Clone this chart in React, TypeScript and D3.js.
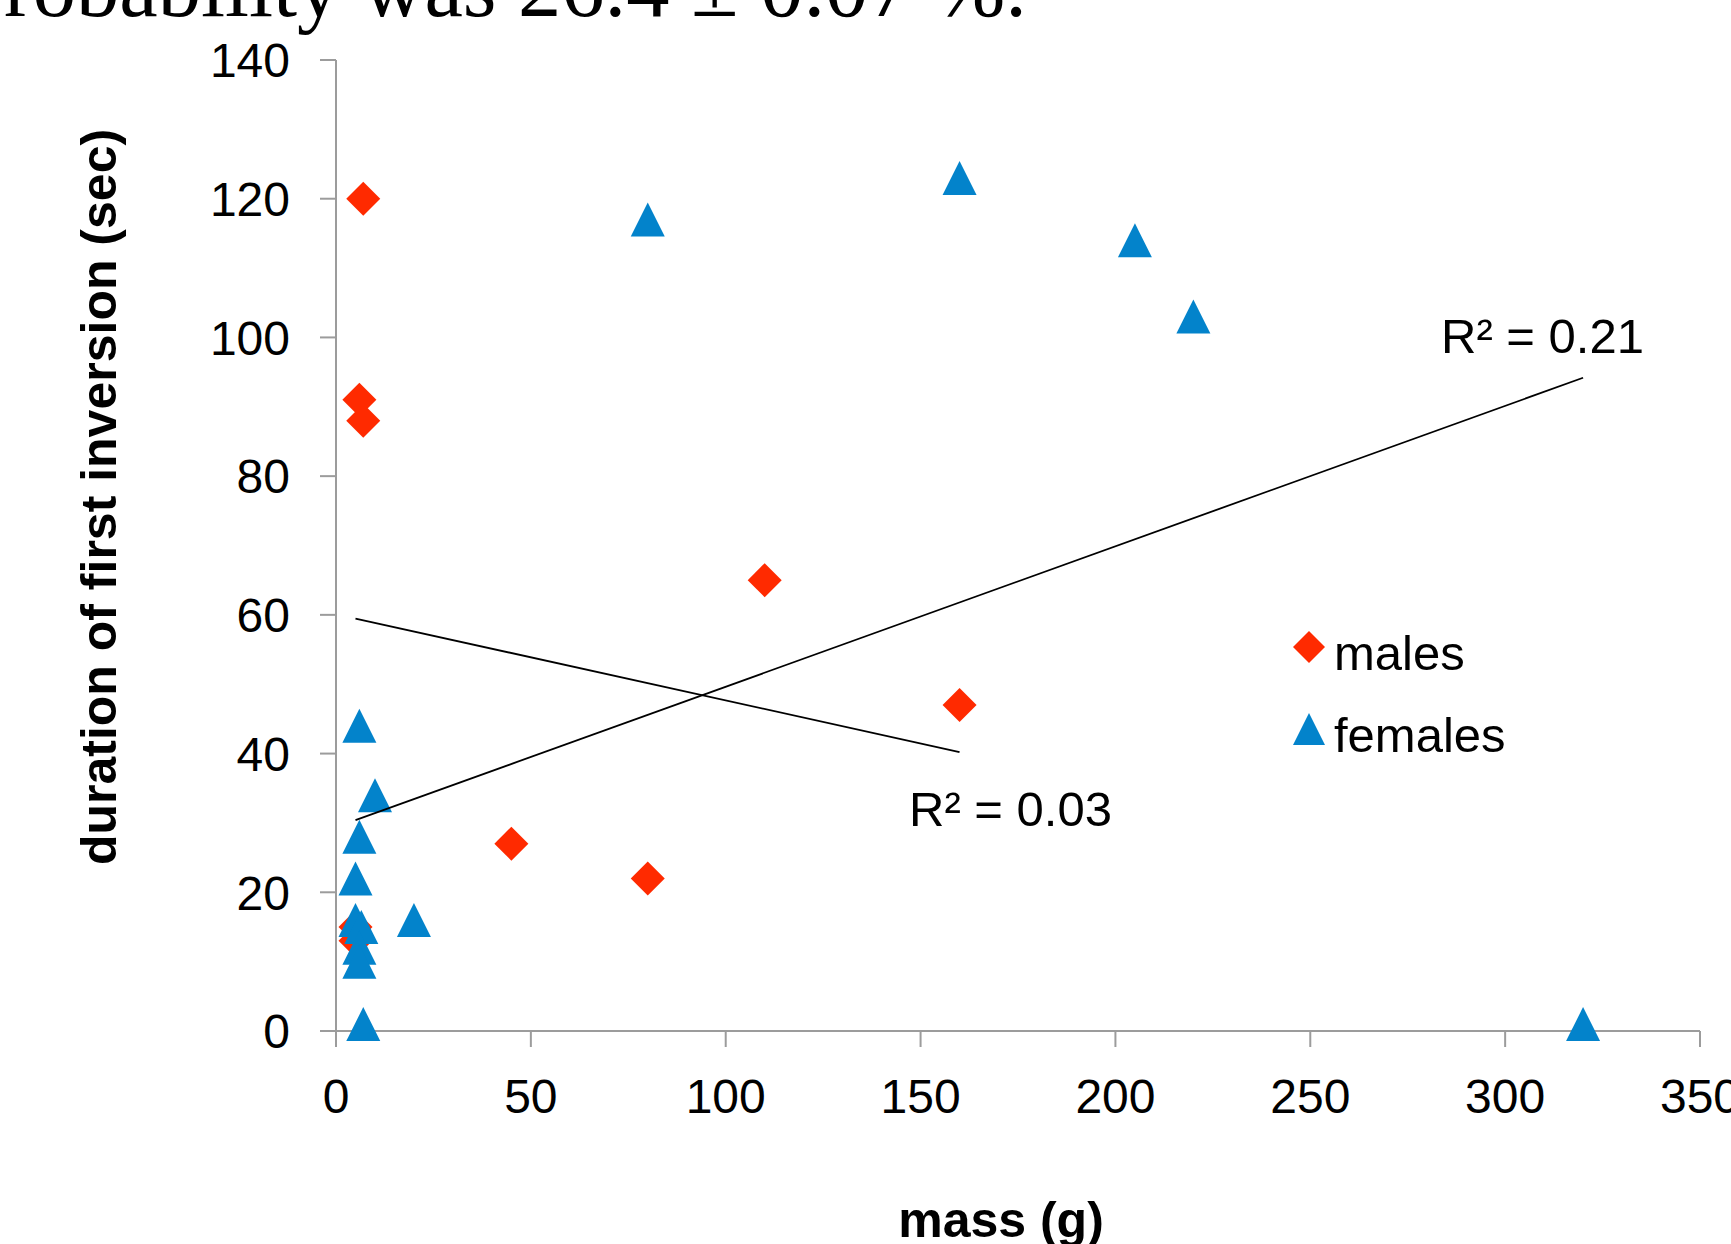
import React from "react";
import * as d3 from "d3";

// ---- data ----
const malesMass = [7, 6, 7, 110, 160, 45, 80, 5, 5];
const malesDuration = [120, 91, 88, 65, 47, 27, 22, 15, 13];
const femalesMass = [6, 10, 6, 5, 5, 6.5, 6, 6, 20, 7, 80, 160, 205, 220, 320];
const femalesDuration = [44, 34, 28, 22, 16, 15, 12, 10, 16, 1, 117, 123, 114, 103, 1];
const xTicks = [0, 50, 100, 150, 200, 250, 300, 350];
const yTicks = [0, 20, 40, 60, 80, 100, 120, 140];
const seriesNames = ["males", "females"];
const r2Labels = ["R² = 0.03", "R² = 0.21"];
const headerText = "robability was 26.4 ± 0.07 %.";
const xTitle = "mass (g)";
const yTitle = "duration of first inversion (sec)";

const W = 1731;
const H = 1244;
const RED = "#FF2A00";
const BLUE = "#0383CB";
const AXIS = "#9C9C9C";
const SANS = "'Liberation Sans', Arial, Helvetica, sans-serif";

const x = d3.scaleLinear().domain([0, 350]).range([336, 1700]);
const y = d3.scaleLinear().domain([0, 140]).range([1031, 60]);

const diamondType = {
  draw(ctx: any, size: number) {
    const r = Math.sqrt(size) / 2;
    ctx.moveTo(0, -r);
    ctx.lineTo(r, 0);
    ctx.lineTo(0, r);
    ctx.lineTo(-r, 0);
    ctx.closePath();
  },
};
const triangleType = {
  draw(ctx: any, size: number) {
    const r = Math.sqrt(size) / 2;
    ctx.moveTo(0, -r);
    ctx.lineTo(r, r);
    ctx.lineTo(-r, r);
    ctx.closePath();
  },
};
const diamondPath = d3.symbol().type(diamondType as any).size(34 * 34)() as string;
const trianglePath = d3.symbol().type(triangleType as any).size(34 * 34)() as string;
const legendDiamond = d3.symbol().type(diamondType as any).size(32 * 32)() as string;
const legendTriangle = d3.symbol().type(triangleType as any).size(32 * 32)() as string;

function fit(xs: number[], ys: number[]) {
  const mx = d3.mean(xs) as number;
  const my = d3.mean(ys) as number;
  let sxy = 0;
  let sxx = 0;
  xs.forEach((v, i) => {
    sxy += (v - mx) * (ys[i] - my);
    sxx += (v - mx) * (v - mx);
  });
  const b = sxy / sxx;
  const a = my - b * mx;
  const [x0, x1] = d3.extent(xs) as [number, number];
  return [
    [x0, a + b * x0],
    [x1, a + b * x1],
  ] as [number, number][];
}

const lineGen = d3
  .line<[number, number]>()
  .x((d) => x(d[0]))
  .y((d) => y(d[1]));

export default function App() {
  const maleFit = fit(malesMass, malesDuration);
  const femaleFit = fit(femalesMass, femalesDuration);
  return (
    <svg
      width={W}
      height={H}
      viewBox={`0 0 ${W} ${H}`}
      style={{ position: "absolute", left: 0, top: 0, display: "block", background: "#fff" }}
    >
      <rect x={0} y={0} width={W} height={H} fill="#fff" />
      <text
        x={4}
        y={16}
        fontFamily="'Liberation Serif', 'Times New Roman', serif"
        fontSize={86.5}
        fill="#000"
      >
        {headerText}
      </text>

      {/* axes */}
      <g stroke={AXIS} strokeWidth={2} fill="none">
        <line x1={x(0)} x2={x(0)} y1={y(140)} y2={y(0) + 16} />
        <line x1={x(0)} x2={x(350)} y1={y(0)} y2={y(0)} />
        {yTicks.map((t) => (
          <line key={"yt" + t} x1={x(0) - 16} x2={x(0)} y1={y(t)} y2={y(t)} />
        ))}
        {xTicks.map((t) => (
          <line key={"xt" + t} x1={x(t)} x2={x(t)} y1={y(0)} y2={y(0) + 16} />
        ))}
      </g>
      <g fontFamily={SANS} fontSize={48} fill="#000">
        {yTicks.map((t) => (
          <text key={"yl" + t} x={290} y={y(t)} dy="0.36em" textAnchor="end">
            {t}
          </text>
        ))}
        {xTicks.map((t) => (
          <text key={"xl" + t} x={x(t)} y={1113} textAnchor="middle">
            {t}
          </text>
        ))}
      </g>

      {/* axis titles */}
      <text
        x={1001}
        y={1237}
        textAnchor="middle"
        fontFamily={SANS}
        fontWeight="bold"
        fontSize={50}
        fill="#000"
      >
        {xTitle}
      </text>
      <text
        transform={`translate(116, ${497}) rotate(-90)`}
        textAnchor="middle"
        fontFamily={SANS}
        fontWeight="bold"
        fontSize={50}
        fill="#000"
      >
        {yTitle}
      </text>

      {/* markers */}
      <g fill={RED}>
        {malesMass.map((m, i) => (
          <path key={"m" + i} d={diamondPath} transform={`translate(${x(m)},${y(malesDuration[i])})`} />
        ))}
      </g>
      <g fill={BLUE}>
        {femalesMass.map((m, i) => (
          <path key={"f" + i} d={trianglePath} transform={`translate(${x(m)},${y(femalesDuration[i])})`} />
        ))}
      </g>

      {/* trend lines */}
      <path d={lineGen(maleFit) as string} stroke="#000" strokeWidth={1.8} fill="none" />
      <path d={lineGen(femaleFit) as string} stroke="#000" strokeWidth={1.8} fill="none" />

      <g fontFamily={SANS} fontSize={49} fill="#000">
        <text x={909} y={826}>{r2Labels[0]}</text>
        <text x={1441} y={353}>{r2Labels[1]}</text>
      </g>

      {/* legend */}
      <g fontFamily={SANS} fontSize={49} fill="#000">
        <path d={legendDiamond} fill={RED} transform="translate(1309,647)" />
        <text x={1334} y={670}>{seriesNames[0]}</text>
        <path d={legendTriangle} fill={BLUE} transform="translate(1309,729)" />
        <text x={1334} y={752}>{seriesNames[1]}</text>
      </g>
    </svg>
  );
}
